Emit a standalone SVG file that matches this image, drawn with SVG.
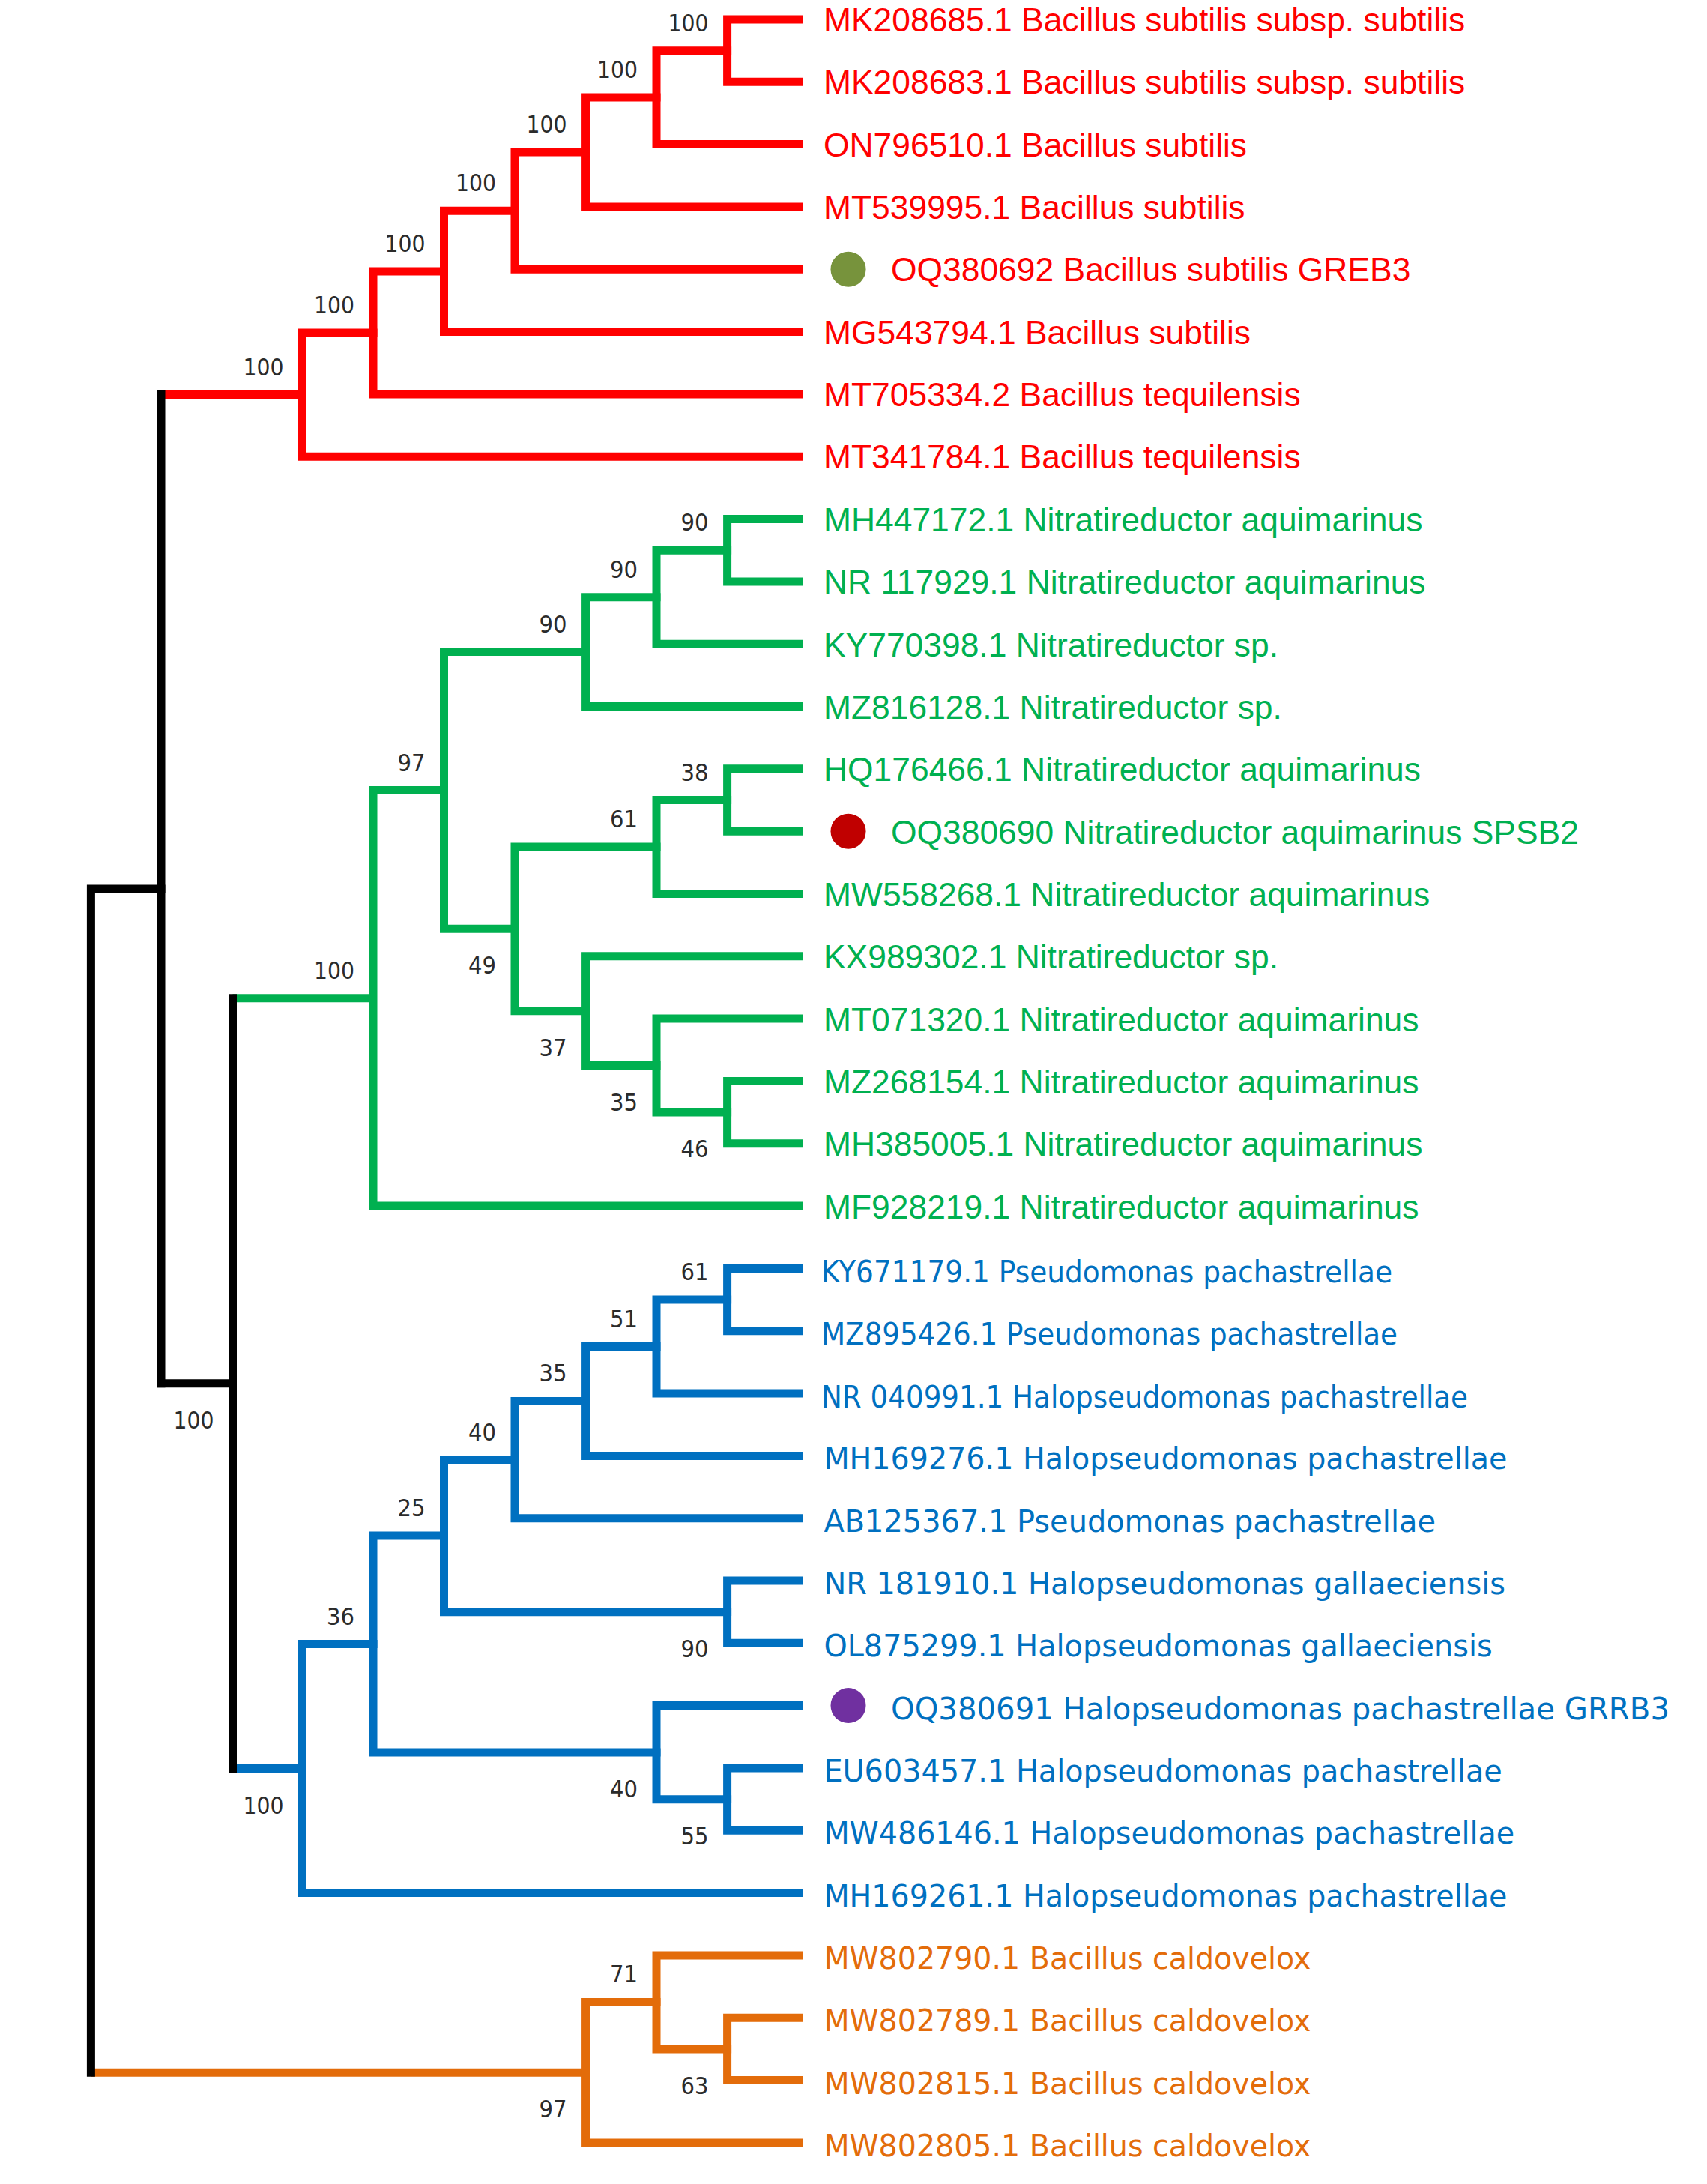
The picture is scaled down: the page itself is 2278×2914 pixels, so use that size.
<svg xmlns="http://www.w3.org/2000/svg" width="2278" height="2914" viewBox="0 0 2278 2914">
<style>
.br{fill:none;stroke-width:11;stroke-linecap:square;stroke-linejoin:miter}
.in{fill:none;stroke-width:11;stroke-linecap:butt}
.r{stroke:#FF0000}.g{stroke:#00B050}.b{stroke:#0070C0}.o{stroke:#E36C0A}.k{stroke:#000000}
.bs{font-family:"DejaVu Sans",Verdana,sans-serif;font-size:32px;fill:#2b2b2b;text-anchor:end}
.la{font-family:"Liberation Sans",Arial,sans-serif;font-size:44.4px}
.lb{font-family:"DejaVu Sans",Verdana,sans-serif;font-size:40px}
.tr{fill:#FF0000}.tg{fill:#00B050}.tb{fill:#0070C0}.to{fill:#E36C0A}
</style>
<rect width="2278" height="2914" fill="#ffffff"/>
<g id="connectors">
<path class="in r" d="M215 526.55 H403.5"/>
<path class="in g" d="M310.5 1331.8 H498"/>
<path class="in b" d="M310.5 2359.6 H403.5"/>
<path class="in o" d="M121.4 2765.15 H781.6"/>
<path class="br r" d="M1066 26 H970.6 V109.3 H1066"/>
<path class="br r" d="M970.6 67.65 H876 V192.6 H1066"/>
<path class="br r" d="M876 130.1 H781.6 V276 H1066"/>
<path class="br r" d="M781.6 203.05 H687 V359.3 H1066"/>
<path class="br r" d="M687 281.2 H592.5 V442.6 H1066"/>
<path class="br r" d="M592.5 361.9 H498 V525.9 H1066"/>
<path class="br r" d="M498 443.9 H403.5 V609.2 H1066"/>
<path class="br g" d="M1066 692.6 H970.6 V775.9 H1066"/>
<path class="br g" d="M970.6 734.25 H876 V859.2 H1066"/>
<path class="br g" d="M876 796.7 H781.6 V942.5 H1066"/>
<path class="br g" d="M1066 1025.8 H970.6 V1109.2 H1066"/>
<path class="br g" d="M970.6 1067.5 H876 V1192.5 H1066"/>
<path class="br g" d="M1066 1442.4 H970.6 V1525.8 H1066"/>
<path class="br g" d="M1066 1359.1 H876 V1484.1 H970.6"/>
<path class="br g" d="M1066 1275.8 H781.6 V1421.6 H876"/>
<path class="br g" d="M876 1130 H687 V1348.7 H781.6"/>
<path class="br g" d="M781.6 869.6 H592.5 V1239.35 H687"/>
<path class="br g" d="M592.5 1054.5 H498 V1609.1 H1066"/>
<path class="br b" d="M1066 1692.4 H970.6 V1775.7 H1066"/>
<path class="br b" d="M970.6 1734.05 H876 V1859 H1066"/>
<path class="br b" d="M876 1796.5 H781.6 V1942.4 H1066"/>
<path class="br b" d="M781.6 1869.45 H687 V2025.7 H1066"/>
<path class="br b" d="M1066 2109 H970.6 V2192.3 H1066"/>
<path class="br b" d="M687 1947.6 H592.5 V2150.65 H970.6"/>
<path class="br b" d="M1066 2359 H970.6 V2442.3 H1066"/>
<path class="br b" d="M1066 2275.6 H876 V2400.65 H970.6"/>
<path class="br b" d="M592.5 2049.1 H498 V2338.1 H876"/>
<path class="br b" d="M498 2193.6 H403.5 V2525.6 H1066"/>
<path class="br o" d="M1066 2692.2 H970.6 V2775.6 H1066"/>
<path class="br o" d="M1066 2608.9 H876 V2733.9 H970.6"/>
<path class="br o" d="M876 2671.4 H781.6 V2858.9 H1066"/>
<path class="br k" d="M310.5 1331.8 V2359.6"/>
<path class="br k" d="M310.5 1845.7 H215"/>
<path class="br k" d="M215 526.55 V1845.7"/>
<path class="br k" d="M215 1186.1 H121.4 V2765.15"/>
</g>
<g id="bootstrap">
<text class="bs" x="945.6" y="41.6" textLength="54" lengthAdjust="spacingAndGlyphs">100</text>
<text class="bs" x="851" y="104.1" textLength="54" lengthAdjust="spacingAndGlyphs">100</text>
<text class="bs" x="756.6" y="177" textLength="54" lengthAdjust="spacingAndGlyphs">100</text>
<text class="bs" x="662" y="255.2" textLength="54" lengthAdjust="spacingAndGlyphs">100</text>
<text class="bs" x="567.5" y="335.9" textLength="54" lengthAdjust="spacingAndGlyphs">100</text>
<text class="bs" x="473" y="417.9" textLength="54" lengthAdjust="spacingAndGlyphs">100</text>
<text class="bs" x="378.5" y="500.5" textLength="54" lengthAdjust="spacingAndGlyphs">100</text>
<text class="bs" x="945.6" y="708.2" textLength="37" lengthAdjust="spacingAndGlyphs">90</text>
<text class="bs" x="851" y="770.7" textLength="37" lengthAdjust="spacingAndGlyphs">90</text>
<text class="bs" x="756.6" y="843.6" textLength="37" lengthAdjust="spacingAndGlyphs">90</text>
<text class="bs" x="945.6" y="1041.5" textLength="37" lengthAdjust="spacingAndGlyphs">38</text>
<text class="bs" x="851" y="1104" textLength="37" lengthAdjust="spacingAndGlyphs">61</text>
<text class="bs" x="567.5" y="1028.5" textLength="37" lengthAdjust="spacingAndGlyphs">97</text>
<text class="bs" x="473" y="1305.8" textLength="54" lengthAdjust="spacingAndGlyphs">100</text>
<text class="bs" x="945.6" y="1544.1" textLength="37" lengthAdjust="spacingAndGlyphs">46</text>
<text class="bs" x="851" y="1481.6" textLength="37" lengthAdjust="spacingAndGlyphs">35</text>
<text class="bs" x="756.6" y="1408.7" textLength="37" lengthAdjust="spacingAndGlyphs">37</text>
<text class="bs" x="662" y="1299.3" textLength="37" lengthAdjust="spacingAndGlyphs">49</text>
<text class="bs" x="285.5" y="1905.7" textLength="54" lengthAdjust="spacingAndGlyphs">100</text>
<text class="bs" x="945.6" y="1708" textLength="37" lengthAdjust="spacingAndGlyphs">61</text>
<text class="bs" x="851" y="1770.5" textLength="37" lengthAdjust="spacingAndGlyphs">51</text>
<text class="bs" x="756.6" y="1843.4" textLength="37" lengthAdjust="spacingAndGlyphs">35</text>
<text class="bs" x="662" y="1921.6" textLength="37" lengthAdjust="spacingAndGlyphs">40</text>
<text class="bs" x="567.5" y="2023.1" textLength="37" lengthAdjust="spacingAndGlyphs">25</text>
<text class="bs" x="473" y="2167.6" textLength="37" lengthAdjust="spacingAndGlyphs">36</text>
<text class="bs" x="945.6" y="2210.6" textLength="37" lengthAdjust="spacingAndGlyphs">90</text>
<text class="bs" x="945.6" y="2460.6" textLength="37" lengthAdjust="spacingAndGlyphs">55</text>
<text class="bs" x="851" y="2398.1" textLength="37" lengthAdjust="spacingAndGlyphs">40</text>
<text class="bs" x="378.5" y="2419.6" textLength="54" lengthAdjust="spacingAndGlyphs">100</text>
<text class="bs" x="851" y="2645.4" textLength="37" lengthAdjust="spacingAndGlyphs">71</text>
<text class="bs" x="945.6" y="2793.9" textLength="37" lengthAdjust="spacingAndGlyphs">63</text>
<text class="bs" x="756.6" y="2825.2" textLength="37" lengthAdjust="spacingAndGlyphs">97</text>
</g>
<g id="leaf-MK208685"><text class="la tr" x="1099" y="42">MK208685.1 Bacillus subtilis subsp. subtilis</text></g>
<g id="leaf-MK208683"><text class="la tr" x="1099" y="125.3">MK208683.1 Bacillus subtilis subsp. subtilis</text></g>
<g id="leaf-ON796510"><text class="la tr" x="1099" y="208.6">ON796510.1 Bacillus subtilis</text></g>
<g id="leaf-MT539995"><text class="la tr" x="1099" y="292">MT539995.1 Bacillus subtilis</text></g>
<g id="leaf-OQ380692"><circle cx="1132" cy="359.3" r="23.5" fill="#77933C"/><text class="la tr" x="1189" y="375.3">OQ380692 Bacillus subtilis GREB3</text></g>
<g id="leaf-MG543794"><text class="la tr" x="1099" y="458.6">MG543794.1 Bacillus subtilis</text></g>
<g id="leaf-MT705334"><text class="la tr" x="1099" y="541.9">MT705334.2 Bacillus tequilensis</text></g>
<g id="leaf-MT341784"><text class="la tr" x="1099" y="625.2">MT341784.1 Bacillus tequilensis</text></g>
<g id="leaf-MH447172"><text class="la tg" x="1099" y="709.1">MH447172.1 Nitratireductor aquimarinus</text></g>
<g id="leaf-NR117929"><text class="la tg" x="1099" y="792.4">NR 117929.1 Nitratireductor aquimarinus</text></g>
<g id="leaf-KY770398"><text class="la tg" x="1099" y="875.7">KY770398.1 Nitratireductor sp.</text></g>
<g id="leaf-MZ816128"><text class="la tg" x="1099" y="959">MZ816128.1 Nitratireductor sp.</text></g>
<g id="leaf-HQ176466"><text class="la tg" x="1099" y="1042.3">HQ176466.1 Nitratireductor aquimarinus</text></g>
<g id="leaf-OQ380690"><circle cx="1132" cy="1109.2" r="23.5" fill="#C00000"/><text class="la tg" x="1189" y="1125.7">OQ380690 Nitratireductor aquimarinus SPSB2</text></g>
<g id="leaf-MW558268"><text class="la tg" x="1099" y="1209">MW558268.1 Nitratireductor aquimarinus</text></g>
<g id="leaf-KX989302"><text class="la tg" x="1099" y="1292.3">KX989302.1 Nitratireductor sp.</text></g>
<g id="leaf-MT071320"><text class="la tg" x="1099" y="1375.6">MT071320.1 Nitratireductor aquimarinus</text></g>
<g id="leaf-MZ268154"><text class="la tg" x="1099" y="1458.9">MZ268154.1 Nitratireductor aquimarinus</text></g>
<g id="leaf-MH385005"><text class="la tg" x="1099" y="1542.3">MH385005.1 Nitratireductor aquimarinus</text></g>
<g id="leaf-MF928219"><text class="la tg" x="1099" y="1625.6">MF928219.1 Nitratireductor aquimarinus</text></g>
<g id="leaf-KY671179"><text class="lb tb" x="1096" y="1710.9" textLength="762" lengthAdjust="spacingAndGlyphs">KY671179.1 Pseudomonas pachastrellae</text></g>
<g id="leaf-MZ895426"><text class="lb tb" x="1096" y="1794.2" textLength="769" lengthAdjust="spacingAndGlyphs">MZ895426.1 Pseudomonas pachastrellae</text></g>
<g id="leaf-NR040991"><text class="lb tb" x="1096" y="1877.5" textLength="863" lengthAdjust="spacingAndGlyphs">NR 040991.1 Halopseudomonas pachastrellae</text></g>
<g id="leaf-MH169276"><text class="lb tb" x="1099.4" y="1960.4" textLength="912" lengthAdjust="spacingAndGlyphs">MH169276.1 Halopseudomonas pachastrellae</text></g>
<g id="leaf-AB125367"><text class="lb tb" x="1099.4" y="2043.7" textLength="816.6" lengthAdjust="spacingAndGlyphs">AB125367.1 Pseudomonas pachastrellae</text></g>
<g id="leaf-NR181910"><text class="lb tb" x="1099.4" y="2127" textLength="909.6" lengthAdjust="spacingAndGlyphs">NR 181910.1 Halopseudomonas gallaeciensis</text></g>
<g id="leaf-OL875299"><text class="lb tb" x="1099.4" y="2210.3" textLength="892.4" lengthAdjust="spacingAndGlyphs">OL875299.1 Halopseudomonas gallaeciensis</text></g>
<g id="leaf-OQ380691"><circle cx="1132" cy="2275.6" r="23.5" fill="#7030A0"/><text class="lb tb" x="1189" y="2293.6" textLength="1039" lengthAdjust="spacingAndGlyphs">OQ380691 Halopseudomonas pachastrellae GRRB3</text></g>
<g id="leaf-EU603457"><text class="lb tb" x="1099.4" y="2377" textLength="905.4" lengthAdjust="spacingAndGlyphs">EU603457.1 Halopseudomonas pachastrellae</text></g>
<g id="leaf-MW486146"><text class="lb tb" x="1099.4" y="2460.3" textLength="921.7" lengthAdjust="spacingAndGlyphs">MW486146.1 Halopseudomonas pachastrellae</text></g>
<g id="leaf-MH169261"><text class="lb tb" x="1099.4" y="2543.6" textLength="912" lengthAdjust="spacingAndGlyphs">MH169261.1 Halopseudomonas pachastrellae</text></g>
<g id="leaf-MW802790"><text class="lb to" x="1099.4" y="2626.9" textLength="650" lengthAdjust="spacingAndGlyphs">MW802790.1 Bacillus caldovelox</text></g>
<g id="leaf-MW802789"><text class="lb to" x="1099.4" y="2710.2" textLength="650" lengthAdjust="spacingAndGlyphs">MW802789.1 Bacillus caldovelox</text></g>
<g id="leaf-MW802815"><text class="lb to" x="1099.4" y="2793.6" textLength="650" lengthAdjust="spacingAndGlyphs">MW802815.1 Bacillus caldovelox</text></g>
<g id="leaf-MW802805"><text class="lb to" x="1099.4" y="2876.9" textLength="650" lengthAdjust="spacingAndGlyphs">MW802805.1 Bacillus caldovelox</text></g>
</svg>
